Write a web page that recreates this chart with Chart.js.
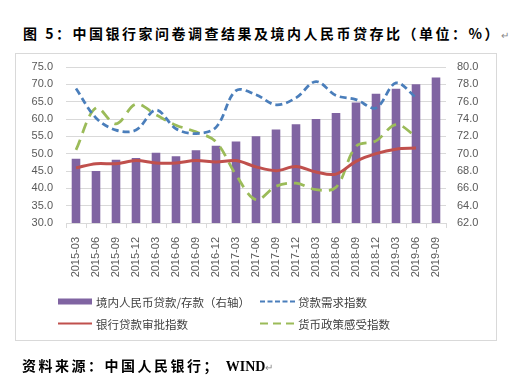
<!DOCTYPE html>
<html>
<head>
<meta charset="utf-8">
<script src="https://cdn.jsdelivr.net/npm/chart.js@4/dist/chart.umd.min.js"></script>
<style>
html,body{margin:0;padding:0;background:#fff;}
body{width:523px;height:388px;position:relative;overflow:hidden;font-family:"Noto Sans CJK SC","Noto Sans",sans-serif;}
#frame{position:absolute;left:15px;top:53px;width:482px;height:288px;border:1px solid #d9d9d9;box-sizing:border-box;}
#c{position:absolute;left:0;top:0;}
.ttl{position:absolute;font-weight:bold;font-size:14px;line-height:18px;letter-spacing:2.5px;color:#000;white-space:nowrap;}
.ret{font-weight:normal;font-size:10px;color:#888;letter-spacing:0;}
.lg{position:absolute;font-size:11.5px;line-height:16px;color:#404040;white-space:nowrap;}
svg.sw{position:absolute;overflow:visible;}
</style>
</head>
<body>
<div id="frame"></div>
<div class="ttl" style="left:23px;top:24px;">图 5：中国银行家问卷调查结果及境内人民币贷存比（单位：%）<span class="ret">↵</span></div>
<canvas id="c" width="523" height="388"></canvas>

<svg class="sw" style="left:0;top:0;" width="523" height="388">
  <rect x="58" y="298.5" width="34" height="6" fill="#8064A2"/>
  <line x1="260" y1="301.5" x2="297" y2="301.5" stroke="#4A7EBB" stroke-width="2" stroke-dasharray="5,2.5"/>
  <line x1="58" y1="323.5" x2="92" y2="323.5" stroke="#C0504D" stroke-width="2"/>
  <line x1="260" y1="323.5" x2="295" y2="323.5" stroke="#9BBB59" stroke-width="2" stroke-dasharray="8,5"/>
</svg>
<div class="lg" style="left:96px;top:293.5px;">境内人民币贷款/存款（右轴）</div>
<div class="lg" style="left:298px;top:293.5px;">贷款需求指数</div>
<div class="lg" style="left:96px;top:315.5px;">银行贷款审批指数</div>
<div class="lg" style="left:298px;top:315.5px;">货币政策感受指数</div>

<div class="ttl" style="left:22px;top:356px;">资料来源：中国人民银行； <span style="font-family:'Liberation Serif',serif;letter-spacing:0;font-size:14px;">WIND</span><span class="ret">↵</span></div>

<script>
// ---- data ----
const categories = ["2015-03","2015-06","2015-09","2015-12","2016-03","2016-06","2016-09","2016-12",
  "2017-03","2017-06","2017-09","2017-12","2018-03","2018-06","2018-09","2018-12","2019-03","2019-06","2019-09"];
// 境内人民币贷款/存款（右轴）
const loanDepositRatio = [69.4, 68.0, 69.3, 69.5, 70.1, 69.7, 70.4, 70.9, 71.4, 72.0, 72.8, 73.4, 74.0, 74.7, 75.9, 76.9, 77.5, 78.0, 78.8];
// 贷款需求指数
const loanDemand = [68.8, 60.3, 56.8, 56.8, 62.6, 57.2, 55.8, 57.6, 68.2, 67.0, 64.1, 66.1, 70.8, 66.8, 65.6, 63.2, 70.4, 66.2];
// 银行贷款审批指数
const loanApproval = [45.9, 47.1, 47.1, 48.0, 47.3, 47.3, 48.0, 47.6, 48.0, 46.2, 45.1, 46.3, 44.7, 44.1, 47.8, 50.0, 51.3, 51.6];
// 货币政策感受指数
const policySense = [51.1, 63.2, 58.6, 64.3, 61.2, 58.2, 56.3, 53.4, 43.9, 36.7, 40.6, 41.5, 39.6, 40.3, 52.1, 53.7, 58.4, 55.0];
// tick settings
const leftTicks = {min: 30, max: 75, step: 5};
const rightTicks = {min: 62, max: 80, step: 2};

const tickFont = {family: '"Liberation Sans", Arial, sans-serif', size: 11};
const tickColor = '#595959';
const gridColor = '#d9d9d9';

new Chart(document.getElementById('c'), {
  type: 'bar',
  data: {
    labels: categories,
    datasets: [
      {type: 'line', label: '贷款需求指数', data: loanDemand, yAxisID: 'y',
        borderColor: '#4A7EBB', borderWidth: 2.75, borderDash: [7, 4], pointRadius: 0,
        tension: 0.35, fill: false, order: 1},
      {type: 'line', label: '银行贷款审批指数', data: loanApproval, yAxisID: 'y',
        borderColor: '#C0504D', borderWidth: 3, pointRadius: 0, tension: 0.35, fill: false, order: 2},
      {type: 'line', label: '货币政策感受指数', data: policySense, yAxisID: 'y',
        borderColor: '#9BBB59', borderWidth: 2.75, borderDash: [11, 7], pointRadius: 0,
        tension: 0.35, fill: false, order: 3},
      {type: 'bar', label: '境内人民币贷款/存款（右轴）', data: loanDepositRatio, yAxisID: 'y1',
        backgroundColor: '#8064A2', barPercentage: 0.43, categoryPercentage: 1, order: 10}
    ]
  },
  options: {
    responsive: false,
    animation: false,
    devicePixelRatio: 1,
    layout: {padding: {top: 67, left: 0, right: 0, bottom: 0}},
    plugins: {legend: {display: false}, tooltip: {enabled: false}, title: {display: false}},
    scales: {
      x: {
        grid: {offset: true, drawOnChartArea: false, drawTicks: true, tickLength: 5, color: gridColor},
        border: {display: true, color: gridColor},
        ticks: {autoSkip: false, minRotation: 90, maxRotation: 90, font: tickFont, color: tickColor, padding: 9},
        afterFit: s => { s.height = 165; }
      },
      y: {
        position: 'left', min: leftTicks.min, max: leftTicks.max,
        grid: {color: gridColor, drawTicks: false},
        border: {display: false},
        ticks: {stepSize: leftTicks.step, font: tickFont, color: tickColor, padding: 13,
          callback: v => Number(v).toFixed(1)},
        afterFit: s => { s.width = 66; }
      },
      y1: {
        position: 'right', min: rightTicks.min, max: rightTicks.max,
        grid: {drawOnChartArea: false, drawTicks: false},
        border: {display: false},
        ticks: {stepSize: rightTicks.step, font: tickFont, color: tickColor, padding: 11,
          callback: v => Number(v).toFixed(1)},
        afterFit: s => { s.width = 77; }
      }
    }
  }
});
</script>
</body>
</html>
